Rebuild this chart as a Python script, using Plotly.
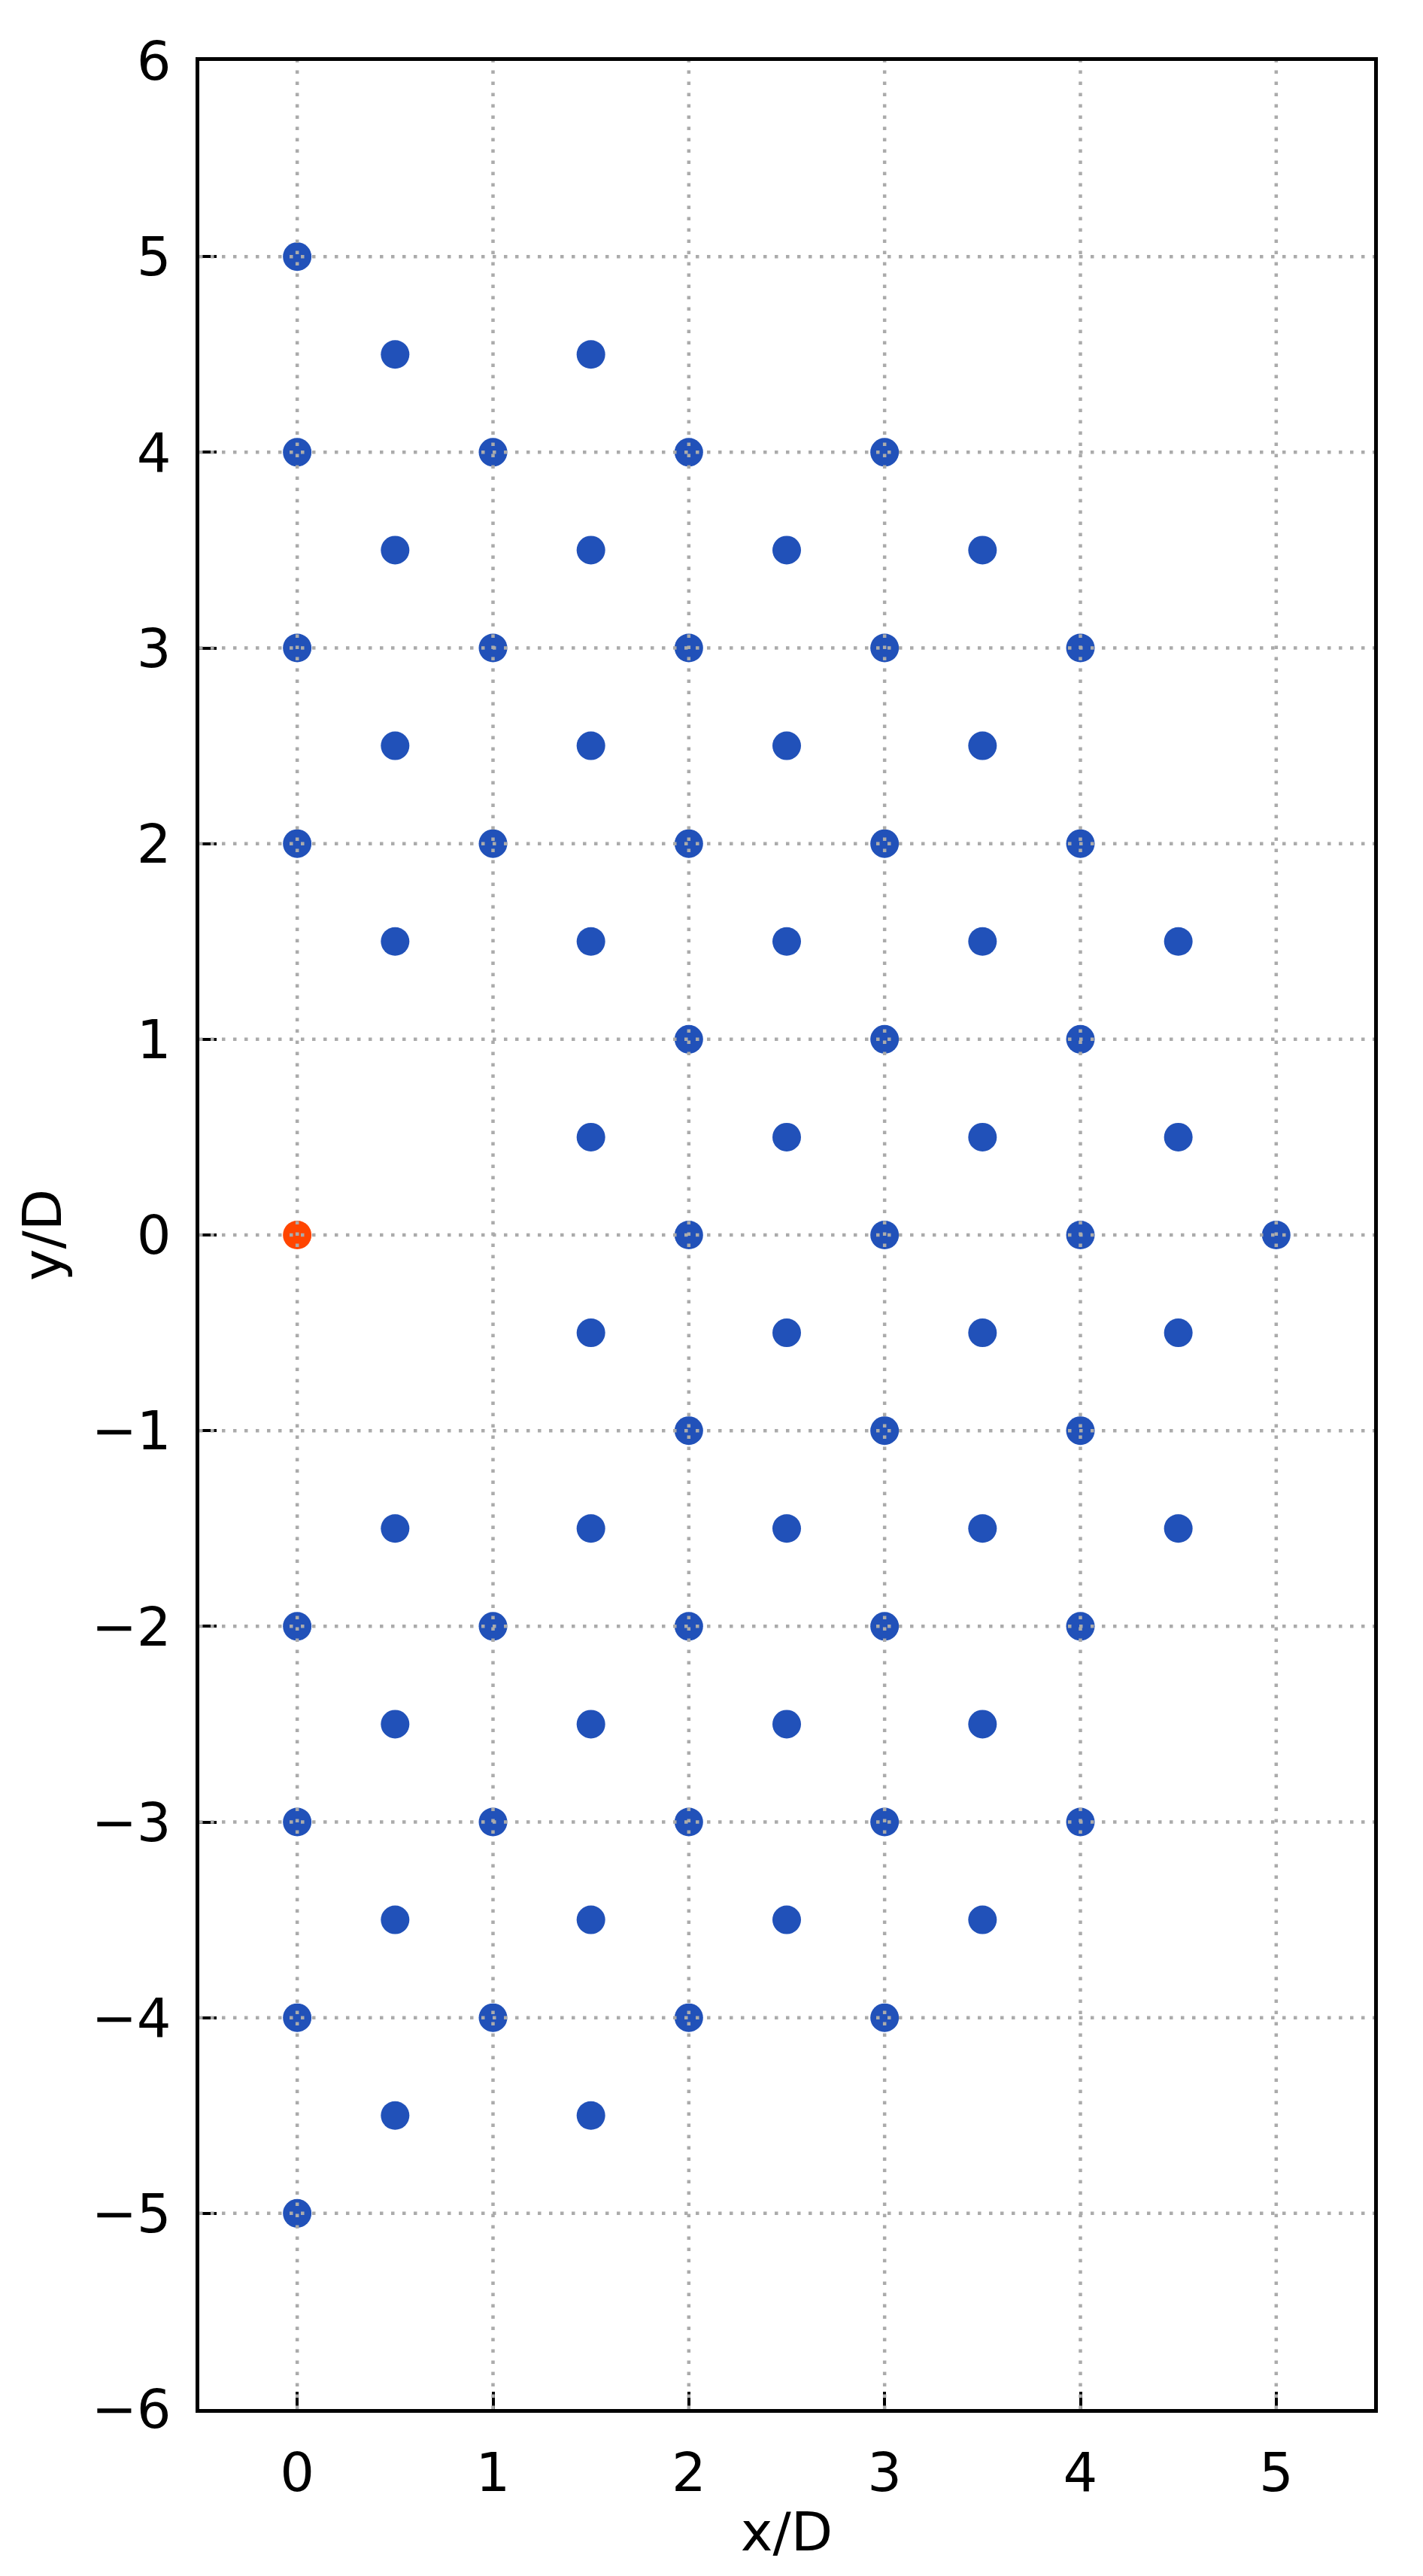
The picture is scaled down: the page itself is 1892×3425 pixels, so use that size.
import plotly.graph_objects as go

# ── Données ──────────────────────────────────────────────────────────────────
BLUE = "#2151B9"
RED = "#FF4500"
GRID = "#ABABAB"

# points bleus, rangée par rangée (y/D décroissant)
blue_x = [
    0,
    0.5, 1.5,
    0, 1, 2, 3,
    0.5, 1.5, 2.5, 3.5,
    0, 1, 2, 3, 4,
    0.5, 1.5, 2.5, 3.5,
    0, 1, 2, 3, 4,
    0.5, 1.5, 2.5, 3.5, 4.5,
    2, 3, 4,
    1.5, 2.5, 3.5, 4.5,
    2, 3, 4, 5,
    1.5, 2.5, 3.5, 4.5,
    2, 3, 4,
    0.5, 1.5, 2.5, 3.5, 4.5,
    0, 1, 2, 3, 4,
    0.5, 1.5, 2.5, 3.5,
    0, 1, 2, 3, 4,
    0.5, 1.5, 2.5, 3.5,
    0, 1, 2, 3,
    0.5, 1.5,
    0,
]
blue_y = (
    [5] * 1 + [4.5] * 2 + [4] * 4 + [3.5] * 4 + [3] * 5 + [2.5] * 4
    + [2] * 5 + [1.5] * 5 + [1] * 3 + [0.5] * 4 + [0] * 4 + [-0.5] * 4
    + [-1] * 3 + [-1.5] * 5 + [-2] * 5 + [-2.5] * 4 + [-3] * 5
    + [-3.5] * 4 + [-4] * 4 + [-4.5] * 2 + [-5] * 1
)

red_x = [0]
red_y = [0]

x_ticks = [0, 1, 2, 3, 4, 5]
y_ticks = [-6, -5, -4, -3, -2, -1, 0, 1, 2, 3, 4, 5, 6]
x_range = [-0.5, 5.5]
y_range = [-6, 6]

FONT = "DejaVu Sans"

fig = go.Figure()
fig.add_trace(go.Scatter(
    x=blue_x, y=blue_y, mode="markers",
    marker=dict(size=38, color=BLUE, line=dict(width=0)),
    showlegend=False,
))
fig.add_trace(go.Scatter(
    x=red_x, y=red_y, mode="markers",
    marker=dict(size=38, color=RED, line=dict(width=0)),
    showlegend=False,
))

# grille pointillée au-dessus des marqueurs (comme matplotlib)
for xv in x_ticks:
    fig.add_shape(type="line", xref="x", yref="y", layer="above",
                  x0=xv, x1=xv, y0=y_range[0], y1=y_range[1],
                  line=dict(color=GRID, width=4.5, dash="4.5px,10.5px"))
for yv in y_ticks[1:-1]:
    fig.add_shape(type="line", xref="x", yref="y", layer="above",
                  x0=x_range[0], x1=x_range[1], y0=yv, y1=yv,
                  line=dict(color=GRID, width=4.5, dash="4.5px,10.5px"))

axis_style = dict(
    showgrid=False, zeroline=False,
    showline=True, linecolor="black", linewidth=5, mirror=True,
    ticks="inside", ticklen=23, tickwidth=4, tickcolor="black",
    tickfont=dict(family=FONT, size=72, color="black"),
    ticklabelstandoff=18,
)

fig.update_xaxes(
    range=x_range, tickvals=x_ticks, ticktext=[str(v) for v in x_ticks],
    title=dict(text="x/D", font=dict(family=FONT, size=72, color="black"), standoff=14),
    **axis_style,
)
fig.update_yaxes(
    range=y_range, tickvals=y_ticks,
    ticktext=[str(v).replace("-", "\u2212") for v in y_ticks],
    title=dict(text="y/D", font=dict(family=FONT, size=72, color="black"), standoff=18),
    **axis_style,
)

fig.update_layout(
    width=1892, height=3425,
    margin=dict(l=257, r=73, t=73, b=230),
    paper_bgcolor="white", plot_bgcolor="white",
    font=dict(family=FONT, color="black"),
)

fig.write_html("out.html")
